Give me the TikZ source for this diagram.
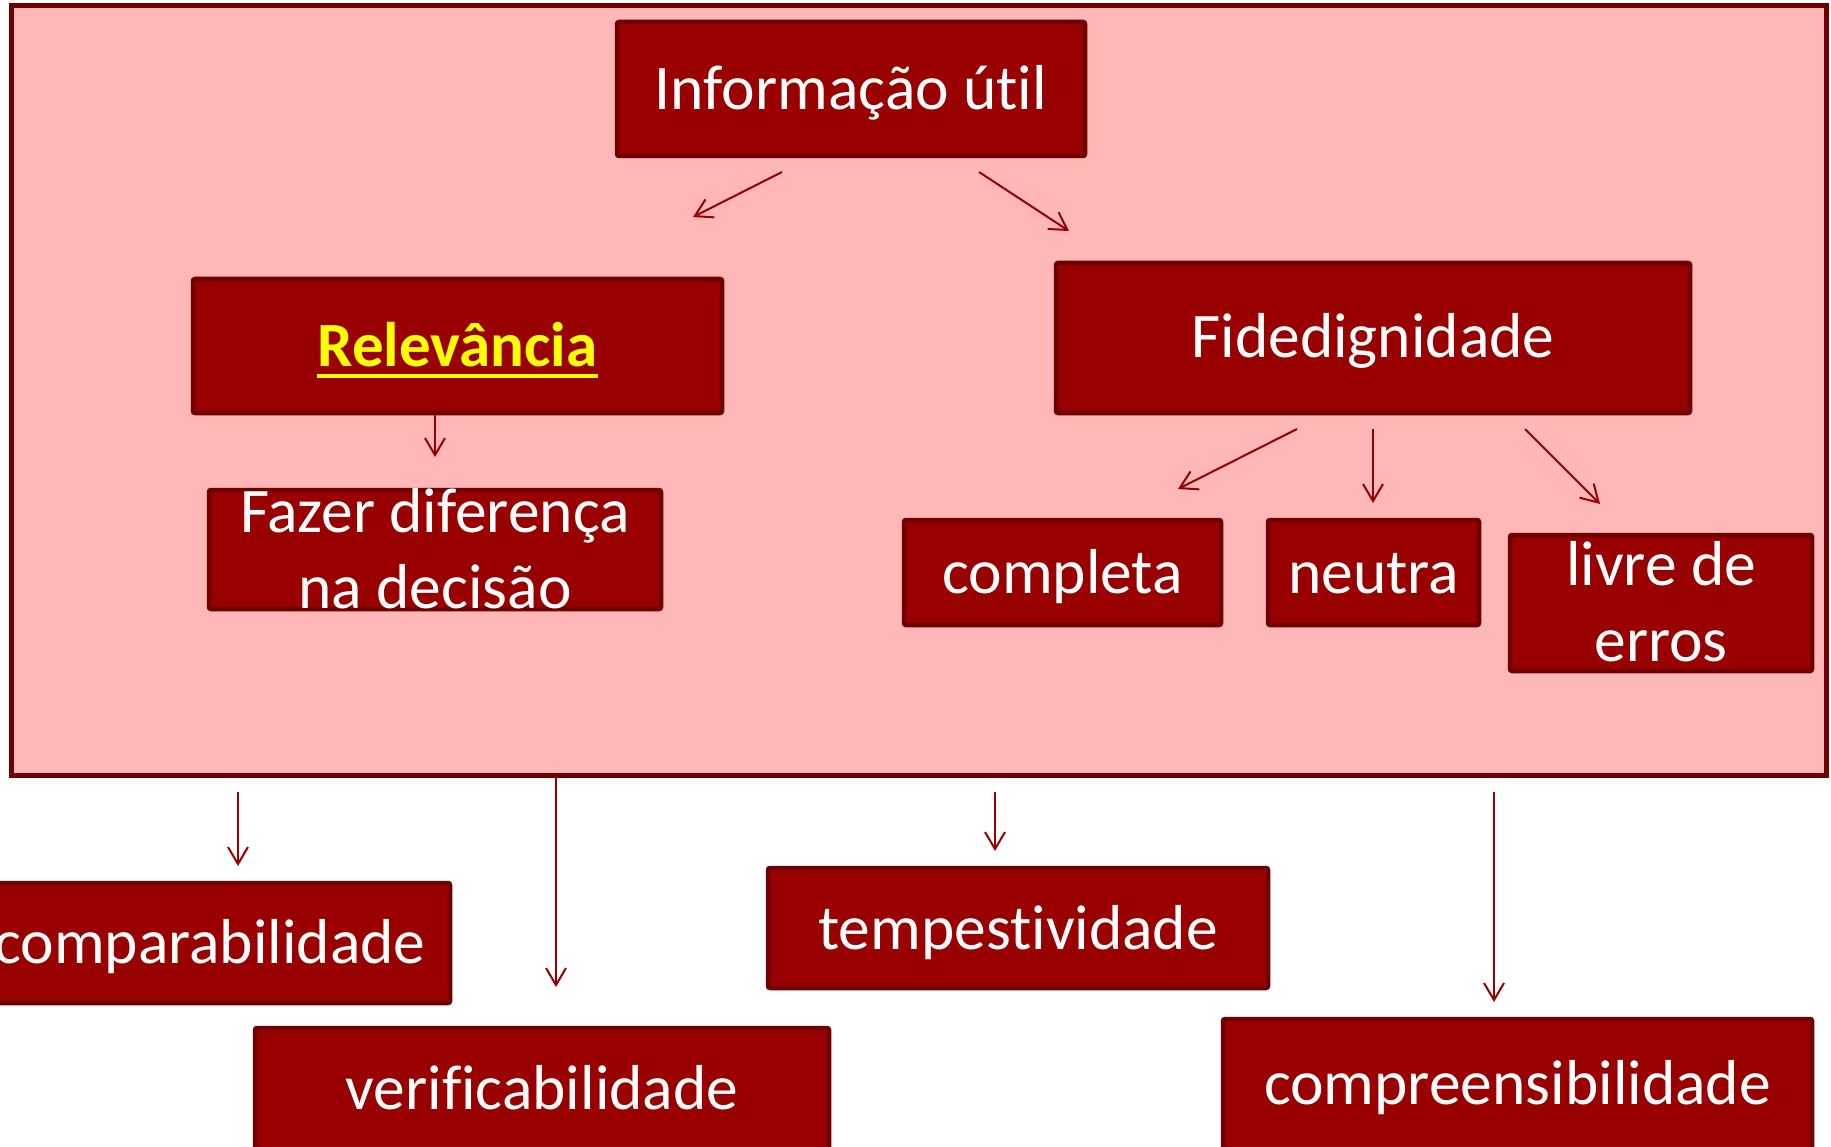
\documentclass[tikz,border=0pt]{standalone}
\usepackage{fontspec}
\setmainfont{Carlito}[Ligatures={NoCommon}]
\usetikzlibrary{arrows.meta,calc}
\definecolor{boxfill}{RGB}{153,0,0}
\definecolor{boxborder}{RGB}{110,0,0}
\definecolor{pinkbg}{RGB}{255,183,183}
\definecolor{arrowcol}{RGB}{150,0,0}
\definecolor{relyellow}{RGB}{255,255,0}
\begin{document}
\begin{tikzpicture}[x=1pt,y=-1pt,
  box/.style={draw=boxborder, fill=boxfill, line width=4.5pt, rounded corners=2pt, inner sep=0pt},
  lbl/.style={text=white, inner sep=0pt, anchor=base, font=\fontsize{63.5}{76}\selectfont},
  conn/.style={draw=arrowcol, line width=2pt, -{Straight Barb[length=17pt,width=20pt,line width=2pt]}}]
\useasboundingbox (0,0) rectangle (1831,1147);
\clip (0,0) rectangle (1831,1147);
\fill[white] (0,0) rectangle (1831,1147);
% outer pink frame
\node[draw=boxborder, fill=pinkbg, line width=5pt, inner sep=0pt, minimum width=1815pt, minimum height=770pt] (frame) at (918.5,390.5) {};
% boxes
\node[box, minimum width=468pt, minimum height=134pt] (info) at (851,89) {};
\node[box, minimum width=529pt, minimum height=134pt] (rel) at (457.5,346) {};
\node[box, minimum width=452pt, minimum height=119pt] (faz) at (435,549.5) {};
\node[box, minimum width=634pt, minimum height=150pt] (fid) at (1373,338) {};
\node[box, minimum width=317pt, minimum height=105pt] (comp) at (1062.5,572.5) {};
\node[box, minimum width=211pt, minimum height=105pt] (neu) at (1373.5,572.5) {};
\node[box, minimum width=302pt, minimum height=136pt] (liv) at (1661,603) {};
\node[box, minimum width=486pt, minimum height=120pt] (compar) at (207,943) {};
\node[box, minimum width=574pt, minimum height=150pt] (verif) at (542,1103) {};
\node[box, minimum width=500pt, minimum height=120pt] (temp) at (1018,928) {};
\node[box, minimum width=589pt, minimum height=159pt] (compre) at (1517.5,1098.5) {};
% texts
\node[lbl] (info-t) at (851,110) {Informação útil};
\node[lbl, text=relyellow, font=\fontsize{63}{76}\selectfont\bfseries] (rel-t) at (457.5,367) {Relevância};
\draw[relyellow, line width=3.5pt] ($(rel-t.base west)+(0,9)$) -- ($(rel-t.base east)+(0,9)$);
\node[lbl, align=center] (faz-t) at (435,608) {Fazer diferença\\na decisão};
\node[lbl] (fid-t) at (1373,358) {Fidedignidade};
\node[lbl] (comp-t) at (1062.5,593) {completa};
\node[lbl] (neu-t) at (1373.5,593) {neutra};
\node[lbl, align=center] (liv-t) at (1661,661) {livre de\\erros};
\node[lbl] (compar-t) at (210,963) {comparabilidade};
\node[lbl] (temp-t) at (1018,949) {tempestividade};
\node[lbl] (verif-t) at (542,1109) {verificabilidade};
\node[lbl] (compre-t) at (1517.5,1104) {compreensibilidade};
% connector endpoints
\coordinate (a1s) at (782,172); \coordinate (a1e) at (693,217);
\coordinate (a2s) at (979,172); \coordinate (a2e) at (1069,231);
\coordinate (a3e) at (435,457);
\coordinate (a4s) at (1297,429); \coordinate (a4e) at (1178,489);
\coordinate (a5s) at (1373,429); \coordinate (a5e) at (1373,503);
\coordinate (a6s) at (1525,429); \coordinate (a6e) at (1600,504);
\coordinate (a7s) at (238,792); \coordinate (a7e) at (238,866);
\coordinate (a8s) at (556,776); \coordinate (a8e) at (556,987);
\coordinate (a9s) at (995,792); \coordinate (a9e) at (995,851);
\coordinate (a10s) at (1494,792); \coordinate (a10e) at (1494,1002);
\draw[conn] (a1s) -- (a1e);
\draw[conn] (a2s) -- (a2e);
\draw[conn] (rel.south -| a3e) -- (a3e);
\draw[conn] (a4s) -- (a4e);
\draw[conn] (a5s) -- (a5e);
\draw[conn] (a6s) -- (a6e);
\draw[conn] (a7s) -- (a7e);
\draw[conn] (a8s) -- (a8e);
\draw[conn] (a9s) -- (a9e);
\draw[conn] (a10s) -- (a10e);
\end{tikzpicture}
\end{document}
